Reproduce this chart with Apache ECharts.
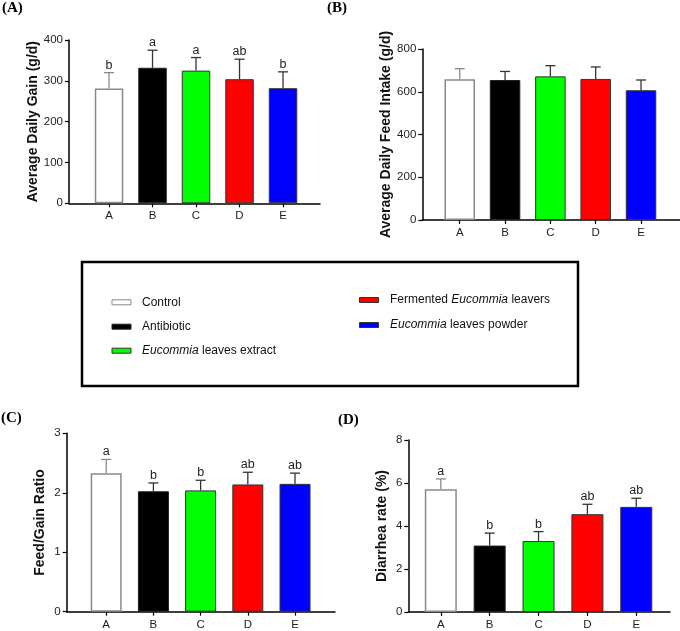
<!DOCTYPE html>
<html>
<head>
<meta charset="utf-8">
<script src="https://cdn.jsdelivr.net/npm/echarts@6/dist/echarts.min.js"></script>
<style>
html,body{margin:0;padding:0;background:#fff;}
#chart{width:680px;height:631px;}
</style>
</head>
<body>
<div id="chart"></div>
<script>
// ---- data ----
const categories = ['A', 'B', 'C', 'D', 'E'];
const groupNames = ['Control', 'Antibiotic', 'Eucommia leaves extract', 'Fermented Eucommia leavers', 'Eucommia leaves powder'];

const adgMean = [281, 332, 325, 304, 282];
const adgSD = [39, 43, 32, 49, 40];
const adgLetters = ['b', 'a', 'a', 'ab', 'b'];

const adfiMean = [658, 655, 672, 660, 607];
const adfiSD = [50, 40, 50, 56, 48];
const adfiLetters = ['', '', '', '', ''];

const fgMean = [2.33, 2.025, 2.04, 2.14, 2.15];
const fgSD = [0.23, 0.14, 0.17, 0.205, 0.18];
const fgLetters = ['a', 'b', 'b', 'ab', 'ab'];

const drMean = [5.71, 3.09, 3.30, 4.55, 4.89];
const drSD = [0.48, 0.58, 0.44, 0.46, 0.40];
const drLetters = ['a', 'b', 'b', 'ab', 'ab'];

const yTicksA = [0, 100, 200, 300, 400];
const yTicksB = [0, 200, 400, 600, 800];
const yTicksC = [0, 1, 2, 3];
const yTicksD = [0, 2, 4, 6, 8];

// ---- styling ----
const fills = ['#ffffff', '#000000', '#00ff00', '#ff0000', '#0000ff'];
const borders = ['#8a8a8a', '#222222', '#333333', '#333333', '#333333'];
const errColors = ['#8a8a8a', '#333333', '#333333', '#333333', '#333333'];
const SANS = '"Liberation Sans", Arial, sans-serif';
const SERIF = '"Liberation Serif", "Times New Roman", serif';

const panels = [
  {title: '(A)', tx: 2, ty: 8, mean: adgMean, sd: adgSD, letters: adgLetters, ticks: yTicksA,
   name: 'Average Daily Gain (g/d)', grid: {left: 69, top: 40, width: 251, height: 163.3},
   xMin: -0.92, xMax: 4.85, bw: 28.5, nameGap: 27},
  {title: '(B)', tx: 327, ty: 8, mean: adfiMean, sd: adfiSD, letters: adfiLetters, ticks: yTicksB,
   name: 'Average Daily Feed Intake (g/d)', grid: {left: 422.3, top: 49, width: 257.7, height: 171},
   xMin: -0.826, xMax: 4.86, bw: 30.5, nameGap: 28.5},
  {title: '(C)', tx: 1, ty: 418, mean: fgMean, sd: fgSD, letters: fgLetters, ticks: yTicksC,
   name: 'Feed/Gain Ratio', grid: {left: 66.7, top: 433.3, width: 268.3, height: 178.4},
   xMin: -0.837, xMax: 4.847, bw: 31, nameGap: 19.7},
  {title: '(D)', tx: 338, ty: 420, mean: drMean, sd: drSD, letters: drLetters, ticks: yTicksD,
   name: 'Diarrhea rate (%)', grid: {left: 408.3, top: 440, width: 261.7, height: 172.3},
   xMin: -0.665, xMax: 4.69, bw: 32, nameGap: 19.6}
];

const grids = [], xAxes = [], yAxes = [], series = [], graphics = [];
const idx = categories.map((c, i) => i);

panels.forEach((p, k) => {
  grids.push(Object.assign({containLabel: false}, p.grid));
  xAxes.push({
    type: 'value', gridIndex: k, min: p.xMin, max: p.xMax,
    axisLine: {show: true, onZero: false, lineStyle: {color: '#000', width: 1.5}},
    axisTick: {show: true, customValues: idx, length: 4, lineStyle: {color: '#000', width: 1.2}},
    axisLabel: {show: true, customValues: idx, margin: 7, fontFamily: SANS, fontSize: 11.5, color: '#222',
      formatter: v => categories[Math.round(v)] || ''},
    splitLine: {show: false}
  });
  const yMax = p.ticks[p.ticks.length - 1];
  const interval = p.ticks[1] - p.ticks[0];
  yAxes.push({
    type: 'value', gridIndex: k, min: p.ticks[0], max: yMax, interval: interval,
    name: p.name, nameLocation: 'middle', nameGap: p.nameGap,
    nameTextStyle: {fontFamily: SANS, fontSize: 14, fontWeight: 'bold', color: '#111'},
    axisLine: {show: true, onZero: false, lineStyle: {color: '#000', width: 1.5}},
    axisTick: {show: true, length: 4, lineStyle: {color: '#000', width: 1.2}},
    axisLabel: {margin: 6, fontFamily: SANS, fontSize: 11.5, color: '#222'},
    splitLine: {show: false}
  });
  series.push({
    type: 'bar', xAxisIndex: k, yAxisIndex: k, barWidth: p.bw,
    data: p.mean.map((v, i) => ({
      value: [i, v],
      itemStyle: {color: fills[i], borderColor: borders[i], borderWidth: i === 0 ? 1.5 : 1}
    })),
    animation: false, z: 2
  });
  series.push({
    type: 'custom', xAxisIndex: k, yAxisIndex: k, z: 3, animation: false,
    data: p.mean.map((v, i) => [i, v, p.sd[i]]),
    renderItem: function (params, api) {
      const x = api.value(0), m = api.value(1), s = api.value(2);
      const i = params.dataIndex;
      const p0 = api.coord([x, m]);
      const p1 = api.coord([x, m + s]);
      const col = errColors[i];
      const children = [
        {type: 'line', shape: {x1: p0[0], y1: p0[1], x2: p1[0], y2: p1[1]}, style: {stroke: col, lineWidth: 1.3}},
        {type: 'line', shape: {x1: p1[0] - 5, y1: p1[1], x2: p1[0] + 5, y2: p1[1]}, style: {stroke: col, lineWidth: 1.3}}
      ];
      const letter = p.letters[i];
      if (letter) {
        children.push({type: 'text', x: p1[0], y: p1[1] - 1,
          style: {text: letter, font: '12.5px ' + SANS, fill: '#222', align: 'center', verticalAlign: 'bottom'}});
      }
      return {type: 'group', children: children};
    }
  });
  graphics.push({type: 'text', x: p.tx, y: p.ty,
    style: {text: p.title, font: 'bold 15px ' + SERIF, fill: '#000', verticalAlign: 'middle'}});
});

// legend box
graphics.push({type: 'rect', shape: {x: 82, y: 262, width: 496, height: 124},
  style: {fill: 'none', stroke: '#000', lineWidth: 2.5}});
const legendPos = [
  {sx: 112, tx: 142, y: 302.3},
  {sx: 112, tx: 142, y: 326.7},
  {sx: 112, tx: 142, y: 350.7},
  {sx: 359.5, tx: 390, y: 300},
  {sx: 359.5, tx: 390, y: 325}
];
groupNames.forEach((name, i) => {
  const L = legendPos[i];
  graphics.push({type: 'rect', shape: {x: L.sx, y: L.y - 2.5, width: 19, height: 5},
    style: {fill: fills[i], stroke: borders[i], lineWidth: 1}});
  const rtext = name.replace('Eucommia', '{i|Eucommia}');
  graphics.push({type: 'text', x: L.tx, y: L.y,
    style: {text: rtext, font: '12px ' + SANS, fill: '#111', verticalAlign: 'middle',
      rich: {i: {fontStyle: 'italic', fontFamily: SANS, fontSize: 12, fill: '#111'}}}});
});

const chart = echarts.init(document.getElementById('chart'), null, {renderer: 'canvas'});
chart.setOption({
  animation: false,
  backgroundColor: '#fff',
  grid: grids, xAxis: xAxes, yAxis: yAxes, series: series,
  graphic: graphics
});
</script>
</body>
</html>
